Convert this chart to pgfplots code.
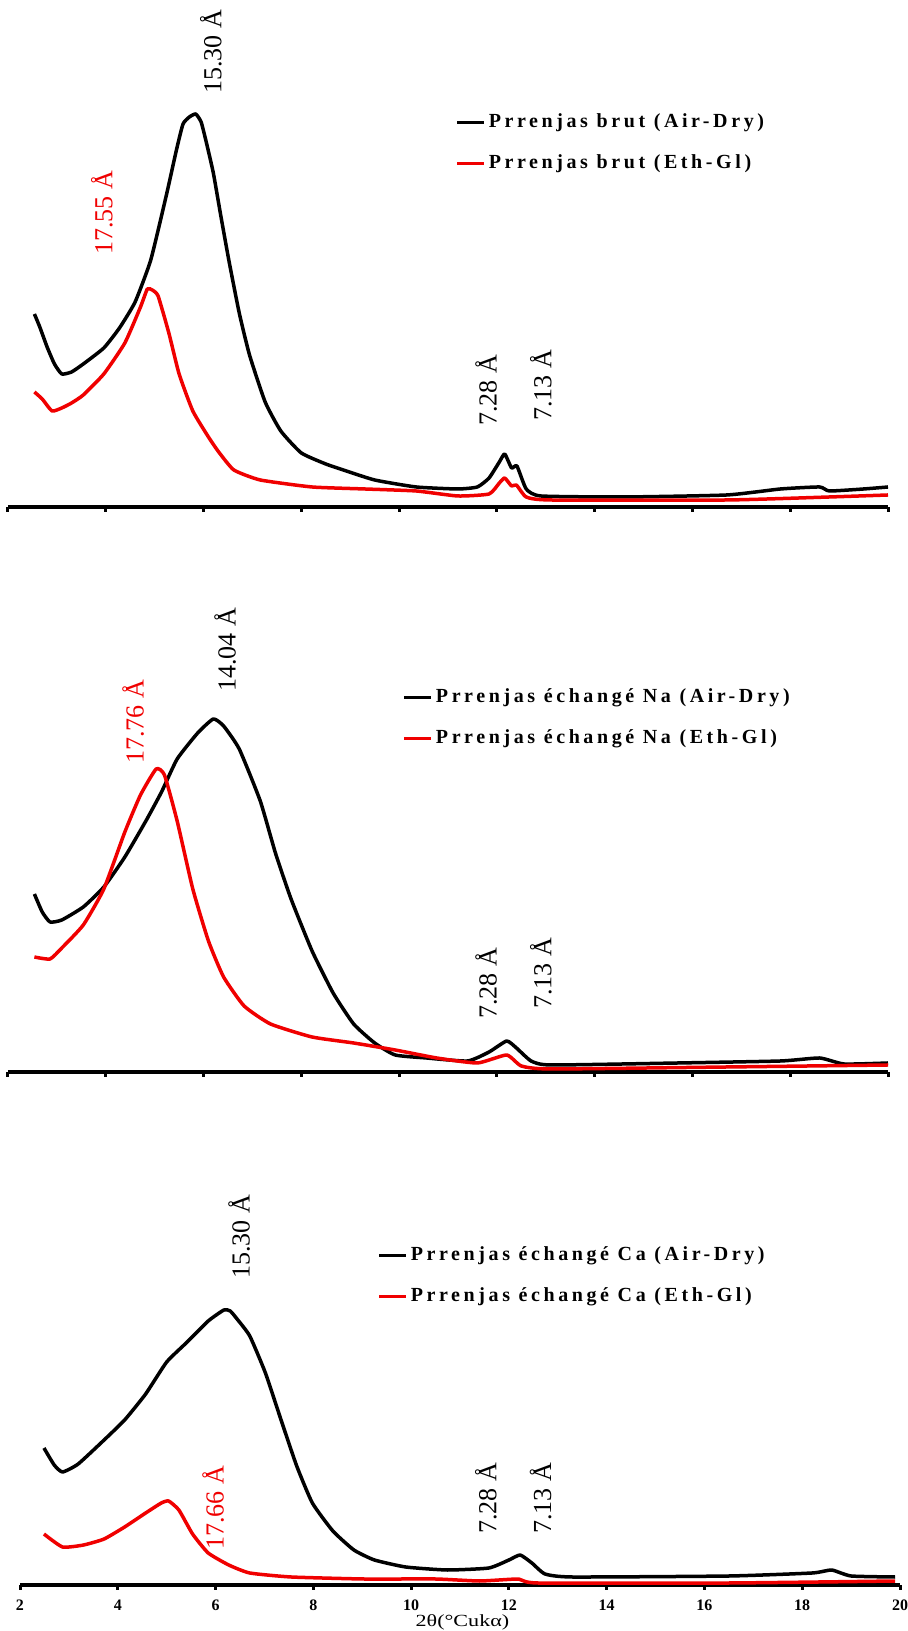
\documentclass[border=0pt]{standalone}
\usepackage{fontspec}
\setmainfont{Liberation Serif}
\newfontfamily\legfont[LetterSpace=18]{Liberation Serif}
\usepackage{graphicx}
\usepackage{pgfplots}
\pgfplotsset{compat=1.18}
\definecolor{xred}{RGB}{240,0,0}
\newcommand{\pk}{\fontsize{13}{15}\selectfont}
\pgfplotsset{
  panel/.style={
    scale only axis, width=440pt, xmin=2, xmax=20, ymin=0,
    axis x line*=bottom, axis y line=none,
    x axis line style={-, line width=1.6pt},
    xtick={2,4,...,20}, tick align=outside, major tick length=2.3pt,
    tick style={line width=1.5pt, black},
    clip=false,
    xticklabel style={font=\fontsize{8}{9}\selectfont\bfseries, anchor=north, inner sep=0pt, yshift=-5pt},
    legend cell align=left,
    legend image code/.code={\draw[#1] (0pt,0pt) -- (13.5pt,0pt);},
    legend style={draw=none, fill=none, inner sep=0pt, row sep=9pt,
      font=\legfont\bfseries\fontsize{10}{12}\selectfont,
      nodes={inner sep=1.5pt}, anchor=west},
  },
  blk/.style={black, line width=1.75pt, line join=round, smooth, tension=0.3},
  rd/.style={xred, line width=1.75pt, line join=round, smooth, tension=0.3},
}
\begin{document}
\begin{tikzpicture}
\path[use as bounding box] (0,0) rectangle (454pt,815.5pt);
% ---------------- top panel ----------------
\begin{axis}[panel, at={(4pt,562pt)}, anchor=south west, height=253.5pt, ymax=507,
  xticklabels={}, legend style={at={(axis cs:11.14,364)}}]
\addplot[blk] coordinates {(2.54,193)(2.65,180)(2.8,160)(2.95,143)(3.1,133)(3.3,135)(3.54,143)(3.96,159)(4.28,179)(4.6,205)(4.92,247)(5.24,312)(5.45,358)(5.58,383)(5.71,390)(5.84,393)(5.95,385)(6.05,366)(6.2,334)(6.35,292)(6.52,246)(6.73,194)(6.94,152)(7.26,105)(7.58,76)(8.0,54)(8.5,43)(8.86,37)(9.5,27)(10.35,20)(11.2,18)(11.6,20)(11.84,29)(12.05,45)(12.16,53)(12.3,39)(12.41,41)(12.6,18)(12.9,11)(14.6,10)(16.7,12)(17.8,18)(18.6,20)(18.8,16)(19.5,18)(20,20)};
\addplot[rd] coordinates {(2.54,115)(2.7,108)(2.9,96)(3.1,99)(3.3,104)(3.54,112)(3.96,133)(4.39,164)(4.71,200)(4.85,218)(4.95,217)(5.07,211)(5.29,174)(5.5,133)(5.78,96)(6.1,70)(6.31,55)(6.62,37)(7.16,27)(8.22,20)(9.3,18)(10.35,16)(11.2,11)(11.84,13)(12.05,24)(12.16,29)(12.3,21)(12.4,22)(12.6,10)(13.1,7)(16.7,7)(18.8,10)(20,12)};
\legend{Prrenjas brut (Air-Dry), Prrenjas brut (Eth-Gl)}
\node[rotate=90, anchor=west, inner sep=0pt, font=\pk] at (axis cs:6.15,413) {15.30 Å};
\node[rotate=90, anchor=west, inner sep=0pt, font=\pk, text=xred] at (axis cs:3.92,252) {17.55 Å};
\node[rotate=90, anchor=west, inner sep=0pt, font=\pk] at (axis cs:11.78,81) {7.28 Å};
\node[rotate=90, anchor=west, inner sep=0pt, font=\pk] at (axis cs:12.9,86) {7.13 Å};
\end{axis}
% ---------------- middle panel ----------------
\begin{axis}[panel, at={(4pt,279.5pt)}, anchor=south west, height=250pt, ymax=500,
  xticklabels={}, legend style={at={(axis cs:10.06,354)}}]
\addplot[blk] coordinates {(2.54,178)(2.7,160)(2.86,150)(3.1,152)(3.54,165)(3.96,185)(4.39,215)(4.82,251)(5.14,280)(5.46,313)(5.88,339)(6.2,353)(6.41,346)(6.73,323)(7.16,271)(7.47,219)(7.79,173)(8.22,121)(8.65,79)(9.07,48)(9.5,29)(9.92,17)(10.56,14)(11.4,11)(11.84,20)(12.2,31)(12.4,24)(12.7,11)(13.1,7)(15.7,9)(17.8,11)(18.6,14)(19.1,8)(20,9)};
\addplot[rd] coordinates {(2.54,115)(2.86,113)(3.1,124)(3.54,147)(3.96,183)(4.39,240)(4.71,277)(5.03,303)(5.2,297)(5.46,251)(5.78,183)(6.1,131)(6.41,95)(6.83,66)(7.37,48)(8.22,35)(9.07,29)(9.92,22)(10.77,14)(11.6,9)(12.2,17)(12.5,6)(13.1,3)(16.7,5)(20,7)};
\legend{Prrenjas échangé Na (Air-Dry), Prrenjas échangé Na (Eth-Gl)}
\node[rotate=90, anchor=west, inner sep=0pt, font=\pk] at (axis cs:6.44,380) {14.04 Å};
\node[rotate=90, anchor=west, inner sep=0pt, font=\pk, text=xred] at (axis cs:4.56,308) {17.76 Å};
\node[rotate=90, anchor=west, inner sep=0pt, font=\pk] at (axis cs:11.78,53) {7.28 Å};
\node[rotate=90, anchor=west, inner sep=0pt, font=\pk] at (axis cs:12.9,63) {7.13 Å};
\end{axis}
% ---------------- bottom panel ----------------
\begin{axis}[panel, at={(10pt,23pt)}, anchor=south west, height=245pt, ymax=490,
  xticklabels={2,4,6,8,10,12,14,16,18,20},
  legend style={at={(axis cs:9.3,309)}}]
\addplot[blk] coordinates {(2.49,137)(2.7,120)(2.87,113)(3.19,121)(3.72,145)(4.14,165)(4.57,191)(5.0,223)(5.42,243)(5.85,264)(6.17,275)(6.3,274)(6.44,266)(6.7,249)(7.02,212)(7.34,165)(7.66,119)(7.98,82)(8.4,54)(8.83,35)(9.25,25)(9.89,18)(10.74,15)(11.59,17)(12.0,25)(12.23,30)(12.47,22)(12.74,11)(13.3,8)(16.5,9)(18.2,12)(18.6,15)(19.0,9)(19.9,8)};
\addplot[rd] coordinates {(2.49,51)(2.87,38)(3.3,40)(3.72,46)(4.14,58)(4.57,72)(4.89,82)(5.04,84)(5.25,75)(5.53,51)(5.85,32)(6.27,20)(6.7,12)(7.55,8)(9.04,6)(10.5,6)(11.4,4)(12.2,6)(12.6,2)(16.5,2)(19.9,4)};
\legend{Prrenjas échangé Ca (Air-Dry), Prrenjas échangé Ca (Eth-Gl)}
\node[rotate=90, anchor=west, inner sep=0pt, font=\pk] at (axis cs:6.48,306) {15.30 Å};
\node[rotate=90, anchor=west, inner sep=0pt, font=\pk, text=xred] at (axis cs:5.95,35) {17.66 Å};
\node[rotate=90, anchor=west, inner sep=0pt, font=\pk] at (axis cs:11.53,51) {7.28 Å};
\node[rotate=90, anchor=west, inner sep=0pt, font=\pk] at (axis cs:12.65,51) {7.13 Å};
\node[inner sep=0pt, anchor=south] at (axis cs:11.05,-45.5) {\scalebox{1.3}[1]{\fontsize{8.5}{9}\selectfont 2θ(°Cukα)}};
\end{axis}
\end{tikzpicture}
\end{document}
